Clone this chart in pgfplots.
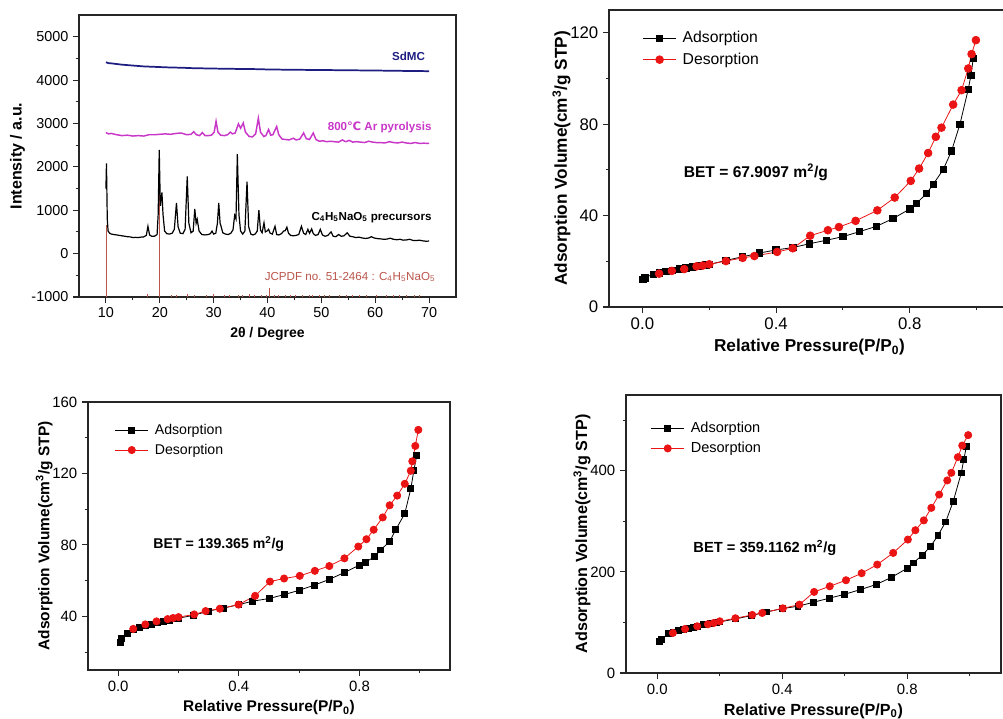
\documentclass[border=0pt]{standalone}
\usepackage{fontspec}
\setmainfont{Liberation Sans}
\newfontfamily\dejavu{DejaVu Sans}
\usepackage{pgfplots}
\pgfplotsset{compat=1.18}

\definecolor{sdmc}{RGB}{30,30,130}
\definecolor{pyro}{RGB}{200,55,200}
\definecolor{jcpdf}{RGB}{185,85,75}
\definecolor{desred}{RGB}{235,20,20}

\pgfplotsset{
  panel/.style={scale only axis, anchor=south west,
    axis line style={line width=0.9pt, black!85},
    every tick/.style={line width=0.8pt, black!85},
    tick align=outside, tick pos=left,
    major tick length=4.5pt, minor tick length=2.5pt,
    /pgf/number format/assume math mode=true,
    /pgf/number format/set thousands separator={}},
  iso/.style={panel, xmin=-0.1, xmax=1.1,
    xtick={0,0.4,0.8}, minor xtick={0.2,0.6,1.0},
    xticklabel style={/pgf/number format/.cd, fixed, fixed zerofill, precision=1},
    xlabel={Relative Pressure(P/P\textsubscript{0})},
    ylabel={Adsorption Volume(cm\textsuperscript{3}/g STP)},
    ylabel shift=-7pt,
    legend cell align=left,
    legend image code/.code={\draw[mark repeat=2,mark phase=2,##1] plot coordinates {(0pt,0pt)(12.5pt,0pt)(25pt,0pt)};\path (28pt,0pt);},
    legend style={draw=none, fill=none, inner sep=0pt, anchor=north west,
      nodes={inner sep=1.5pt}, row sep=2.5pt}},
  ads/.style={black, line width=0.6pt, mark=square*, mark size=2.4pt, mark options={solid, fill=black}},
  des/.style={desred, line width=0.6pt, mark=*, mark size=2.9pt, mark options={solid, fill=desred}},
}

\begin{document}
\begin{tikzpicture}
\useasboundingbox (0,0) rectangle (752.25pt,538.5pt);
\clip (0,0) rectangle (752.25pt,538.5pt);

% ---------- XRD ----------
\begin{axis}[panel, at={(59.25pt,315.75pt)}, width=282.75pt, height=211.5pt,
  xmin=5, xmax=75, ymin=-1000, ymax=5500,
  xtick={10,20,...,70}, minor xtick={15,25,...,65},
  ytick={-1000,0,...,5000}, minor ytick={-500,500,...,4500},
  ticklabel style={font=\fontsize{10.8}{12}\selectfont},
  xlabel={2θ / Degree}, ylabel={Intensity / a.u.}, ylabel shift=-2pt,
  xlabel style={font=\bfseries\fontsize{10.5}{12}\selectfont},
  ylabel style={font=\bfseries\fontsize{12}{14}\selectfont},
  unbounded coords=jump]
\addplot[jcpdf, line width=0.5pt] coordinates {
 (10,-1000)(10,650)(10,nan)(20,-1000)(20,1590)(20,nan)(40.4,-1000)(40.4,-800)(40.4,nan)
 (17.7,-1000)(17.7,-935)(17.7,nan)(22.1,-1000)(22.1,-960)(22.1,nan)(23.0,-1000)(23.0,-950)(23.0,nan)
 (25.2,-1000)(25.2,-940)(25.2,nan)(26.4,-1000)(26.4,-950)(26.4,nan)(28.6,-1000)(28.6,-960)(28.6,nan)
 (29.9,-1000)(29.9,-935)(29.9,nan)(32.0,-1000)(32.0,-960)(32.0,nan)(33.0,-1000)(33.0,-950)(33.0,nan)
 (34.6,-1000)(34.6,-945)(34.6,nan)(35.3,-1000)(35.3,-955)(35.3,nan)(36.6,-1000)(36.6,-940)(36.6,nan)
 (37.5,-1000)(37.5,-960)(37.5,nan)(38.8,-1000)(38.8,-950)(38.8,nan)(39.7,-1000)(39.7,-955)(39.7,nan)
 (41.2,-1000)(41.2,-945)(41.2,nan)(42.1,-1000)(42.1,-955)(42.1,nan)(43.3,-1000)(43.3,-950)(43.3,nan)
 (44.3,-1000)(44.3,-960)(44.3,nan)(45.2,-1000)(45.2,-955)(45.2,nan)(46.5,-1000)(46.5,-950)(46.5,nan)
 (47.7,-1000)(47.7,-960)(47.7,nan)(48.3,-1000)(48.3,-955)(48.3,nan)(49.6,-1000)(49.6,-950)(49.6,nan)
 (50.5,-1000)(50.5,-945)(50.5,nan)(51.5,-1000)(51.5,-955)(51.5,nan)(53.3,-1000)(53.3,-950)(53.3,nan)
 (54.6,-1000)(54.6,-960)(54.6,nan)(55.8,-1000)(55.8,-955)(55.8,nan)(57.1,-1000)(57.1,-960)(57.1,nan)
 (58.3,-1000)(58.3,-955)(58.3,nan)(60.2,-1000)(60.2,-960)(60.2,nan)(62.0,-1000)(62.0,-955)(62.0,nan)
 (63.3,-1000)(63.3,-960)(63.3,nan)(64.5,-1000)(64.5,-950)(64.5,nan)(65.7,-1000)(65.7,-960)(65.7,nan)
 (67.3,-1000)(67.3,-955)(67.3,nan)(68.2,-1000)(68.2,-960)};
\addplot[black, line width=0.9pt] coordinates {
 (10.0,1500)(10.1,2080)(10.25,800)(10.4,520)(10.7,470)(11,450)(11.5,440)(12,430)(12.5,420)(13,410)
 (13.5,400)(14,390)(14.5,385)(15,370)(15.5,375)(16,370)(16.5,380)(17,385)(17.5,420)(17.8,630)
 (18.1,430)(18.5,400)(19,400)(19.5,440)(19.7,900)(19.9,2390)(20.1,1100)(20.4,1410)(20.6,900)(20.9,520)
 (21.3,460)(21.8,450)(22.3,470)(22.7,560)(23.1,1170)(23.4,620)(23.8,470)(24.3,460)(24.7,560)(25.1,1780)
 (25.4,700)(25.8,480)(26.2,520)(26.5,1030)(26.75,700)(26.95,790)(27.3,520)(27.8,440)(28.4,430)(29,440)
 (29.4,460)(29.7,520)(30.0,450)(30.4,470)(30.7,700)(30.95,1170)(31.2,700)(31.35,640)(31.7,480)(32.2,450)
 (32.7,440)(33.2,470)(33.6,550)(33.9,880)(34.15,800)(34.4,2290)(34.7,900)(35.0,520)(35.4,450)(35.8,520)
 (36.2,1660)(36.5,620)(36.9,450)(37.3,430)(37.7,450)(38.1,520)(38.4,1000)(38.7,540)(39.0,480)(39.35,710)
 (39.6,500)(39.9,520)(40.2,560)(40.5,470)(40.9,450)(41.4,630)(41.7,440)(42.1,430)(42.6,460)(43.0,520)
 (43.3,530)(43.6,610)(43.9,470)(44.3,420)(44.8,410)(45.3,420)(45.8,440)(46.3,630)(46.7,470)(47.1,440)
 (47.5,560)(47.8,470)(48.2,570)(48.5,460)(48.9,420)(49.4,440)(49.8,560)(50.2,430)(50.7,400)(51.2,420)
 (51.8,500)(52.2,400)(52.7,390)(53.2,440)(53.7,400)(54.2,410)(54.8,480)(55.3,400)(55.8,390)(56.4,370)
 (57,380)(57.6,360)(58.2,350)(58.8,360)(59.3,390)(59.8,360)(60.5,345)(61,340)(61.6,330)(62.2,335)
 (62.8,355)(63.4,330)(64,320)(64.6,330)(65.2,310)(65.8,315)(66.4,330)(67,305)(67.6,300)(68.2,310)
 (68.8,295)(69.4,285)(70,290)};
\addplot[pyro, line width=1.1pt] coordinates {
 (10,2790)(10.5,2760)(11,2770)(12,2740)(13,2720)(14,2730)(15,2710)(16,2720)(17,2710)(18,2740)
 (19,2740)(20,2750)(21,2760)(22,2750)(23,2770)(24,2780)(25,2740)(25.8,2750)(26.3,2810)(26.8,2740)
 (27.4,2720)(27.9,2790)(28.4,2720)(29,2720)(29.6,2730)(30.1,2800)(30.45,3050)(30.8,2800)(31.3,2730)(32,2720)
 (32.6,2740)(33.1,2800)(33.5,2760)(34.0,2780)(34.6,2990)(35.0,2890)(35.5,3010)(35.9,2800)(36.6,2700)(37.2,2690)
 (37.8,2760)(38.3,3120)(38.7,2800)(39.3,2700)(39.7,2720)(40.2,2860)(40.6,2730)(41.0,2740)(41.7,2930)(42.1,2740)
 (42.7,2640)(43.4,2630)(44,2620)(44.8,2660)(45.3,2620)(46.0,2640)(46.7,2780)(47.2,2650)(47.8,2630)(48.5,2780)
 (49.0,2630)(49.6,2590)(50.3,2600)(51,2580)(51.7,2590)(52.4,2580)(53.2,2570)(53.9,2620)(54.5,2580)(55.2,2610)
 (55.8,2570)(56.5,2580)(57.3,2570)(58,2560)(58.8,2590)(59.5,2570)(60.2,2560)(61,2560)(61.8,2550)(62.6,2580)
 (63.4,2560)(64.2,2550)(65,2570)(65.8,2550)(66.6,2540)(67.4,2560)(68.2,2540)(69,2545)(70,2540)};
\addplot[sdmc, line width=1.3pt] coordinates {
 (10,4410)(10.5,4390)(11,4385)(12,4370)(13,4355)(14,4345)(15,4335)(16,4325)(17,4315)(18,4310)
 (19,4305)(20,4300)(22,4290)(24,4285)(26,4275)(28,4270)(30,4265)(32,4262)(34,4258)(36,4255)
 (38,4252)(40,4245)(43,4240)(46,4236)(50,4232)(55,4226)(60,4220)(65,4212)(70,4205)};
\node[anchor=east, inner sep=0pt, sdmc, font=\bfseries\fontsize{8.7}{10}\selectfont] at (axis cs:69.3,4550) {SdMC};
\node[anchor=east, inner sep=0pt, pyro, font=\bfseries\fontsize{8.7}{10}\selectfont] at (axis cs:70.5,2920) {800{\dejavu\bfseries ℃} Ar pyrolysis};
\node[anchor=east, inner sep=0pt, black, font=\bfseries\fontsize{8.7}{10}\selectfont] at (axis cs:70.5,830) {C\textsubscript{4}H\textsubscript{5}NaO\textsubscript{5} precursors};
\node[anchor=east, inner sep=0pt, jcpdf, font=\fontsize{8.7}{10}\selectfont] at (axis cs:71.2,-540) {JCPDF no. 51-2464 : C\textsubscript{4}H\textsubscript{5}NaO\textsubscript{5}};
\end{axis}

% ---------- BET 67.9097 ----------
\begin{axis}[iso, at={(456.75pt,308.25pt)}, width=300.75pt, height=222.75pt,
  ymin=0, ymax=130, ytick={0,40,80,120}, minor ytick={20,60,100},
  ticklabel style={font=\fontsize{12.6}{14}\selectfont},
  label style={font=\bfseries\fontsize{12.9}{15}\selectfont},
  legend style={at={(axis description cs:0.083,0.935)}, font=\fontsize{11.8}{14}\selectfont, row sep=3pt}]
\addplot[ads] coordinates {
 (0.002,12.0)(0.007,12.8)(0.032,14.3)(0.05,15.0)(0.07,15.6)(0.09,16.1)(0.11,16.6)(0.13,17.1)(0.15,17.6)
 (0.17,18.0)(0.19,18.4)(0.2,18.6)(0.25,20.4)(0.3,22.0)(0.35,23.6)(0.4,25.0)(0.45,26.0)(0.5,27.7)
 (0.55,29.2)(0.6,30.8)(0.65,33.0)(0.7,35.3)(0.75,38.7)(0.8,42.9)(0.82,45.4)(0.85,49.6)(0.87,53.7)
 (0.9,60.1)(0.925,68.3)(0.95,79.9)(0.975,95.3)(0.983,101.3)(0.99,108.8)};
\addlegendentry{Adsorption}
\addplot[des] coordinates {
 (0.998,116.8)(0.985,110.7)(0.975,104.4)(0.955,94.9)(0.93,88.6)(0.895,78.5)(0.878,74.5)(0.855,67.4)
 (0.828,60.6)(0.803,55.2)(0.755,47.9)(0.703,42.3)(0.638,37.7)(0.588,35.0)(0.555,33.6)(0.502,31.2)
 (0.45,25.7)(0.403,24.1)(0.335,22.3)(0.3,21.5)(0.25,20.1)(0.2,18.7)(0.18,18.1)(0.162,17.8)(0.125,16.6)
 (0.088,15.8)(0.05,14.6)};
\addlegendentry{Desorption}
\node[anchor=west, inner sep=0pt, font=\bfseries\fontsize{11.7}{14}\selectfont] at (axis cs:0.123,59) {BET = 67.9097 m\textsuperscript{2}/g};
\end{axis}

% ---------- BET 139.365 ----------
\begin{axis}[iso, at={(66pt,36pt)}, width=271.5pt, height=201pt,
  ymin=10, ymax=160, ytick={40,80,120,160}, minor ytick={20,60,100,140},
  ticklabel style={font=\fontsize{11.2}{13}\selectfont},
  label style={font=\bfseries\fontsize{11.6}{14}\selectfont},
  legend style={at={(axis description cs:0.073,0.925)}, font=\fontsize{10.6}{13}\selectfont}]
\addplot[ads, mark size=2.2pt] coordinates {
 (0.006,25.5)(0.011,27.8)(0.03,30.6)(0.05,32.5)(0.07,33.8)(0.09,34.8)(0.11,35.6)(0.13,36.4)(0.15,37.1)
 (0.17,37.9)(0.19,38.6)(0.2,39.0)(0.25,40.6)(0.3,43.0)(0.35,44.7)(0.4,46.6)(0.445,48.5)(0.5,50.0)
 (0.55,52.2)(0.6,54.6)(0.65,57.5)(0.7,60.7)(0.75,64.6)(0.8,68.7)(0.82,70.4)(0.85,73.4)(0.87,77.2)
 (0.9,81.9)(0.92,88.5)(0.95,97.5)(0.97,111.4)(0.98,121.5)(0.99,130.3)};
\addlegendentry{Adsorption}
\addplot[des, mark size=2.7pt] coordinates {
 (0.995,144.4)(0.985,135.4)(0.975,126.8)(0.97,121.5)(0.95,114.2)(0.925,107.6)(0.9,102.2)(0.877,95.4)
 (0.847,88.5)(0.823,83.2)(0.796,79.1)(0.75,72.5)(0.7,68.2)(0.652,65.5)(0.602,62.7)(0.55,61.2)(0.503,59.5)
 (0.454,51.5)(0.399,46.6)(0.337,44.3)(0.29,43.0)(0.252,41.1)(0.2,39.6)(0.182,39.1)(0.164,38.5)
 (0.127,37.2)(0.09,35.5)(0.05,33.0)};
\addlegendentry{Desorption}
\node[anchor=west, inner sep=0pt, font=\bfseries\fontsize{10.6}{13}\selectfont] at (axis cs:0.116,80.5) {BET = 139.365 m\textsuperscript{2}/g};
\end{axis}

% ---------- BET 359.1162 ----------
\begin{axis}[iso, at={(469.5pt,33.75pt)}, width=281.25pt, height=208.5pt,
  ymin=0, ymax=550, ytick={0,200,400}, minor ytick={100,300,500},
  ticklabel style={font=\fontsize{11.2}{13}\selectfont},
  label style={font=\bfseries\fontsize{12.1}{14}\selectfont},
  legend style={at={(axis description cs:0.065,0.91)}, font=\fontsize{10.9}{13}\selectfont}]
\addplot[ads, mark size=2.2pt] coordinates {
 (0.006,62)(0.014,67.3)(0.035,77.9)(0.05,81)(0.069,84.5)(0.085,87)(0.1,89)(0.115,90.5)(0.128,92.4)
 (0.147,95.7)(0.17,98)(0.19,100)(0.2,101)(0.25,107)(0.3,113.5)(0.35,120.8)(0.4,127.4)(0.45,132)
 (0.5,140)(0.55,147.9)(0.6,155.8)(0.65,165)(0.7,174.9)(0.75,189.4)(0.8,207.3)(0.819,217.8)(0.848,233)
 (0.875,250.8)(0.898,272)(0.923,299)(0.947,339.3)(0.973,396)(0.981,422.4)(0.989,447.5)};
\addlegendentry{Adsorption}
\addplot[des, mark size=2.7pt] coordinates {
 (0.995,470.6)(0.976,450)(0.962,427)(0.941,396)(0.928,381)(0.902,353)(0.877,326.7)(0.853,302)
 (0.826,282.5)(0.802,264)(0.755,237.6)(0.704,214.5)(0.654,197.4)(0.604,183.5)(0.552,171.6)(0.502,160.4)
 (0.455,135.3)(0.402,128)(0.336,118.8)(0.304,114.9)(0.25,108.3)(0.2,102.3)(0.181,99)(0.162,96.4)
 (0.128,92.4)(0.089,87.1)(0.05,79.2)};
\addlegendentry{Desorption}
\node[anchor=west, inner sep=0pt, font=\bfseries\fontsize{11}{13}\selectfont] at (axis cs:0.115,247) {BET = 359.1162 m\textsuperscript{2}/g};
\end{axis}
\end{tikzpicture}
\end{document}
